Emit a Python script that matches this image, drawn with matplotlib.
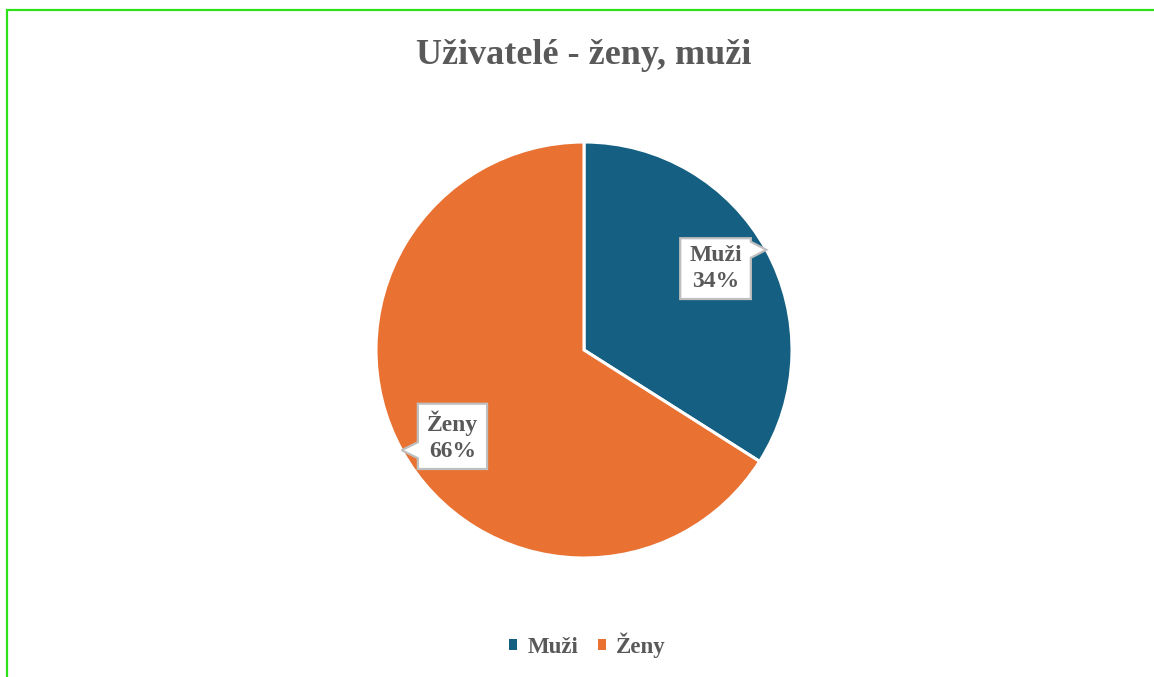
import matplotlib.pyplot as plt
from matplotlib.patches import Rectangle, Patch, Polygon
import numpy as np

labels = ["Muži", "Ženy"]
shares = [34, 66]
colors = ["#156082", "#E97132"]
title = "Uživatelé - ženy, muži"

plt.rcParams['font.family'] = ['Liberation Serif', 'DejaVu Serif']
gray = "#595959"

fig = plt.figure(figsize=(11.54, 6.77), dpi=100)

# green frame (left + top visible, right/bottom run off the image)
fig.patches.append(Rectangle((7 / 1154, -0.05), 1.05, 1 - 10 / 677 + 0.05,
                             transform=fig.transFigure, fill=False,
                             ec="#2ee01a", lw=1.6, zorder=0))

fig.text(0.506, 1 - 55 / 677, title, ha="center", va="center",
         fontsize=26, fontweight="bold", color=gray)

ax = fig.add_axes([584 / 1154 - 208 / 1154, 1 - 350 / 677 - 208 / 677,
                   416 / 1154, 416 / 677])
wedges, _ = ax.pie(shares, colors=colors, startangle=90, counterclock=False,
                   wedgeprops=dict(edgecolor="white", linewidth=2.2))
ax.set_xlim(-1, 1)
ax.set_ylim(-1, 1)
ax.set_aspect("equal")
ax.axis("off")

# data labels as callouts
total = sum(shares)
texts = []
for w, lab, val in zip(wedges, labels, shares):
    ang = np.deg2rad((w.theta1 + w.theta2) / 2)
    tip = (np.cos(ang), np.sin(ang))
    cx, cy = np.cos(ang + 0.065) * 0.75, np.sin(ang + 0.065) * 0.75 - 0.012
    t = ax.text(cx, cy, f"{lab}\n{round(val / total * 100)}%", ha="center",
                va="center", fontsize=17, fontweight="bold", color=gray,
                linespacing=1.3, zorder=6)
    texts.append((t, tip))

fig.canvas.draw()
r = fig.canvas.get_renderer()
px = 1 / 208  # data units per pixel
for t, tip in texts:
    bb = t.get_window_extent(r).transformed(ax.transData.inverted())
    x0, x1 = bb.x0 - 9 * px, bb.x1 + 9 * px
    y0, y1 = bb.y0 - 7 * px, bb.y1 + 7 * px
    h = 8 * px
    c = np.clip(tip[1], y0 + h + 2 * px, y1 - h - 2 * px)
    if tip[0] > x1:
        pts = [(x0, y0), (x1, y0), (x1, c - h), tip, (x1, c + h), (x1, y1), (x0, y1)]
    else:
        pts = [(x0, y0), (x1, y0), (x1, y1), (x0, y1), (x0, c + h), tip, (x0, c - h)]
    ax.add_patch(Polygon(pts, closed=True, fc="white", ec="#bfbfbf", lw=1.6,
                         joinstyle="miter", zorder=5))

handles = [Patch(facecolor=c, edgecolor="none") for c in colors]
leg = fig.legend(handles, labels, loc="center", bbox_to_anchor=(0.509, 1 - 645 / 677),
                 ncol=2, frameon=False, handlelength=0.35, handleheight=0.35,
                 handletextpad=0.45, columnspacing=0.85,
                 prop=dict(size=16.5, weight="bold"))
for t in leg.get_texts():
    t.set_color(gray)

fig.savefig("out.png", dpi=100)
